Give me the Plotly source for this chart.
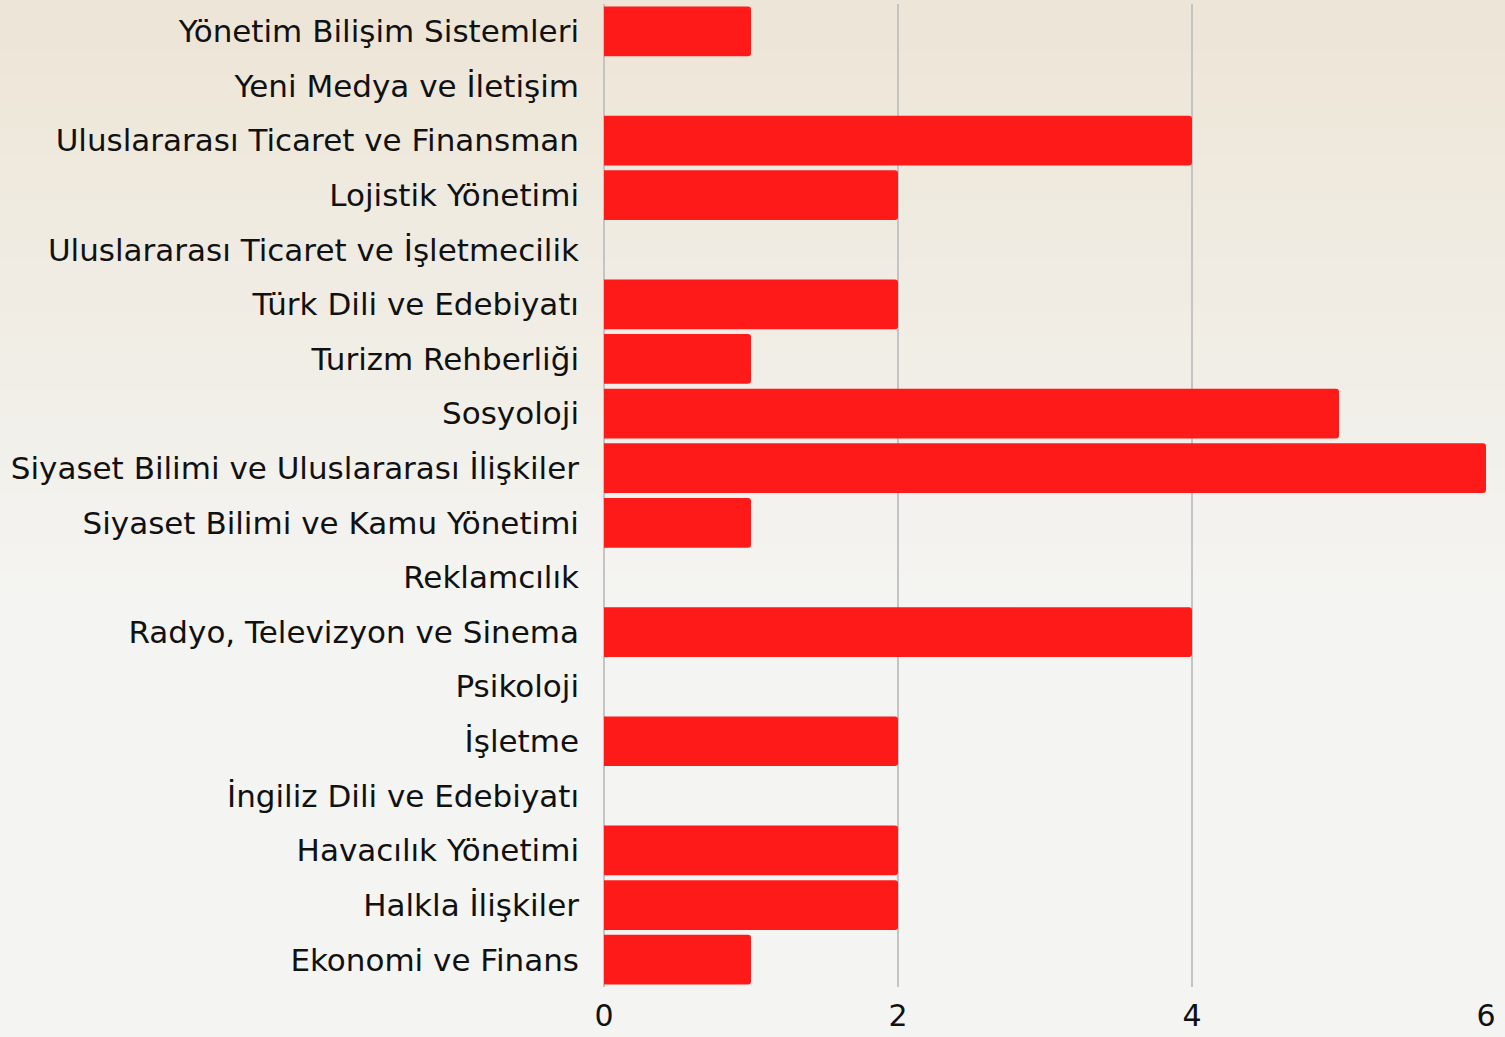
import plotly.graph_objects as go

# bölümler, yukarıdan aşağıya
bolumler = [
    "Yönetim Bilişim Sistemleri",
    "Yeni Medya ve İletişim",
    "Uluslararası Ticaret ve Finansman",
    "Lojistik Yönetimi",
    "Uluslararası Ticaret ve İşletmecilik",
    "Türk Dili ve Edebiyatı",
    "Turizm Rehberliği",
    "Sosyoloji",
    "Siyaset Bilimi ve Uluslararası İlişkiler",
    "Siyaset Bilimi ve Kamu Yönetimi",
    "Reklamcılık",
    "Radyo, Televizyon ve Sinema",
    "Psikoloji",
    "İşletme",
    "İngiliz Dili ve Edebiyatı",
    "Havacılık Yönetimi",
    "Halkla İlişkiler",
    "Ekonomi ve Finans",
]
sayilar = [1, 0, 4, 2, 0, 2, 1, 5, 6, 1, 0, 4, 0, 2, 0, 2, 2, 1]
x_ticks = [0, 2, 4, 6]

W, H = 1505, 1037
L, R, T, B = 604, 19, 4, 50
pw, ph = W - L - R, H - T - B

fig = go.Figure(go.Bar(
    x=sayilar,
    y=bolumler,
    orientation="h",
    marker=dict(color="#FF1A1A", line=dict(width=0)),
    hoverinfo="x+y",
))

# arka plan gradyanı (bej -> açık gri)
top_c = (237, 229, 214)
bot_c = (244, 244, 242)
n = 40
shapes = []
for i in range(n):
    y0px = H * i / n
    y1px = H * (i + 1) / n + 1
    t = min(1.0, (y0px + y1px) / 2 / 600)
    c = tuple(round(top_c[k] + (bot_c[k] - top_c[k]) * t) for k in range(3))
    shapes.append(dict(
        type="rect", layer="below", xref="paper", yref="paper",
        x0=-L / pw, x1=1 + R / pw,
        y0=1 - (y1px - T) / ph, y1=1 - (y0px - T) / ph,
        fillcolor="rgb(%d,%d,%d)" % c, line=dict(width=0),
    ))

fig.update_layout(
    width=W, height=H,
    margin=dict(l=L, r=R, t=T, b=B),
    paper_bgcolor="rgb(244,244,242)",
    plot_bgcolor="rgba(0,0,0,0)",
    font=dict(family="DejaVu Sans", color="#111111", size=31),
    bargap=0.09,
    barcornerradius=3,
    shapes=shapes,
    showlegend=False,
)
fig.update_xaxes(
    range=[0, 6], tickvals=x_ticks, showgrid=True,
    gridcolor="#C4C4C4", gridwidth=1.5,
    zeroline=True, zerolinecolor="#C4C4C4", zerolinewidth=1.5,
    showline=False, ticks="", ticklabelstandoff=8,
    tickfont=dict(size=30), automargin=False,
)
fig.update_yaxes(
    range=[17.5, -0.5], showgrid=False, zeroline=False, showline=False,
    ticks="", ticklabelstandoff=24, tickfont=dict(size=31), automargin=False,
)

fig.write_html("out.html", config={"displayModeBar": False},
               post_script="document.body.style.margin='0';")
